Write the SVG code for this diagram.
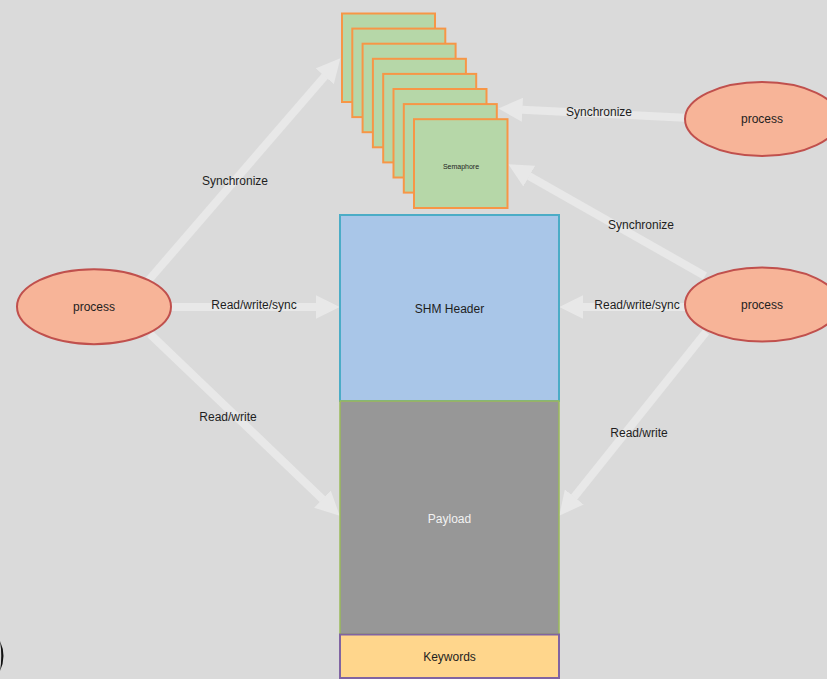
<svg xmlns="http://www.w3.org/2000/svg" width="827" height="679" viewBox="0 0 827 679">
  <defs>
    <style>
      text { font-family: "Liberation Sans", Arial, sans-serif; fill: #1e1e1e; text-anchor: middle; }
      .lbl { font-size: 12px; }
      .conn { stroke: #e8e8e8; stroke-width: 8; fill: none; marker-end: url(#head); }
      .proc { fill: #f7b498; stroke: #c0504d; stroke-width: 2; }
      .sem { fill: #b6d7a8; stroke: #f79646; stroke-width: 2; }
    </style>
    <marker id="head" viewBox="0 0 3 3" refX="0.05" refY="1.5" markerWidth="3" markerHeight="3" orient="auto" markerUnits="strokeWidth">
      <path d="M0,0 L3,1.5 L0,3 Z" fill="#e8e8e8"/>
    </marker>
  </defs>

  <rect width="827" height="679" fill="#dadada"/>

  <!-- connectors (shafts end at arrowhead base) -->
  <g id="connectors">
    <line class="conn" x1="148" y1="281" x2="325" y2="76"/>
    <line class="conn" x1="165" y1="307" x2="316" y2="307"/>
    <line class="conn" x1="150" y1="334" x2="322.7" y2="499.4"/>
    <line class="conn" x1="690" y1="118" x2="522" y2="109.7"/>
    <line class="conn" x1="705" y1="276" x2="528.9" y2="175.9"/>
    <line class="conn" x1="690" y1="307" x2="583" y2="307"/>
    <line class="conn" x1="706" y1="332" x2="574" y2="497.3"/>
    <text class="lbl" x="235" y="185">Synchronize</text>
    <text class="lbl" x="254" y="309">Read/write/sync</text>
    <text class="lbl" x="228" y="421">Read/write</text>
    <text class="lbl" x="599" y="116">Synchronize</text>
    <text class="lbl" x="641" y="229">Synchronize</text>
    <text class="lbl" x="637" y="308.5">Read/write/sync</text>
    <text class="lbl" x="639" y="437">Read/write</text>
  </g>

  <!-- stacked semaphores -->
  <g id="semaphores">
    <rect class="sem" x="342" y="13.5" width="93" height="88.5"/>
    <rect class="sem" x="352.3" y="28.6" width="93" height="88.5"/>
    <rect class="sem" x="362.6" y="43.7" width="93" height="88.5"/>
    <rect class="sem" x="372.9" y="58.8" width="93" height="88.5"/>
    <rect class="sem" x="383.2" y="73.9" width="93" height="88.5"/>
    <rect class="sem" x="393.5" y="89" width="93" height="88.5"/>
    <rect class="sem" x="403.8" y="104.1" width="93" height="88.5"/>
    <rect class="sem" x="414" y="119.2" width="93.5" height="88.8"/>
    <text x="461" y="169" style="font-size:7px">Semaphore</text>
  </g>

  <!-- shared memory segment -->
  <g id="shm-header">
    <rect x="340" y="215" width="219" height="186" fill="#a9c6e8" stroke="#4bacc6" stroke-width="2"/>
    <text class="lbl" x="449.5" y="313">SHM Header</text>
  </g>
  <g id="payload">
    <rect x="340" y="401" width="219" height="233" fill="#979797" stroke="#9bbb59" stroke-width="1.5"/>
    <text class="lbl" x="449.5" y="523" style="fill:#f2f2f2">Payload</text>
  </g>
  <g id="keywords">
    <rect x="340" y="634.5" width="219" height="43.5" fill="#ffd68c" stroke="#8064a2" stroke-width="2"/>
    <text class="lbl" x="449.5" y="661">Keywords</text>
  </g>

  <!-- processes -->
  <g id="process-left">
    <ellipse class="proc" cx="94" cy="306.7" rx="77" ry="37.5"/>
    <text class="lbl" x="94" y="311">process</text>
  </g>
  <g id="process-top-right">
    <ellipse class="proc" cx="762" cy="119" rx="77" ry="37"/>
    <text class="lbl" x="762" y="123">process</text>
  </g>
  <g id="process-right">
    <ellipse class="proc" cx="762" cy="304.5" rx="77" ry="37"/>
    <text class="lbl" x="762" y="309">process</text>
  </g>

  <!-- partial black arc at lower-left edge -->
  <path d="M0,641 Q7,656 0,671 Q2.5,656 0,641 Z" fill="#111"/>
</svg>
